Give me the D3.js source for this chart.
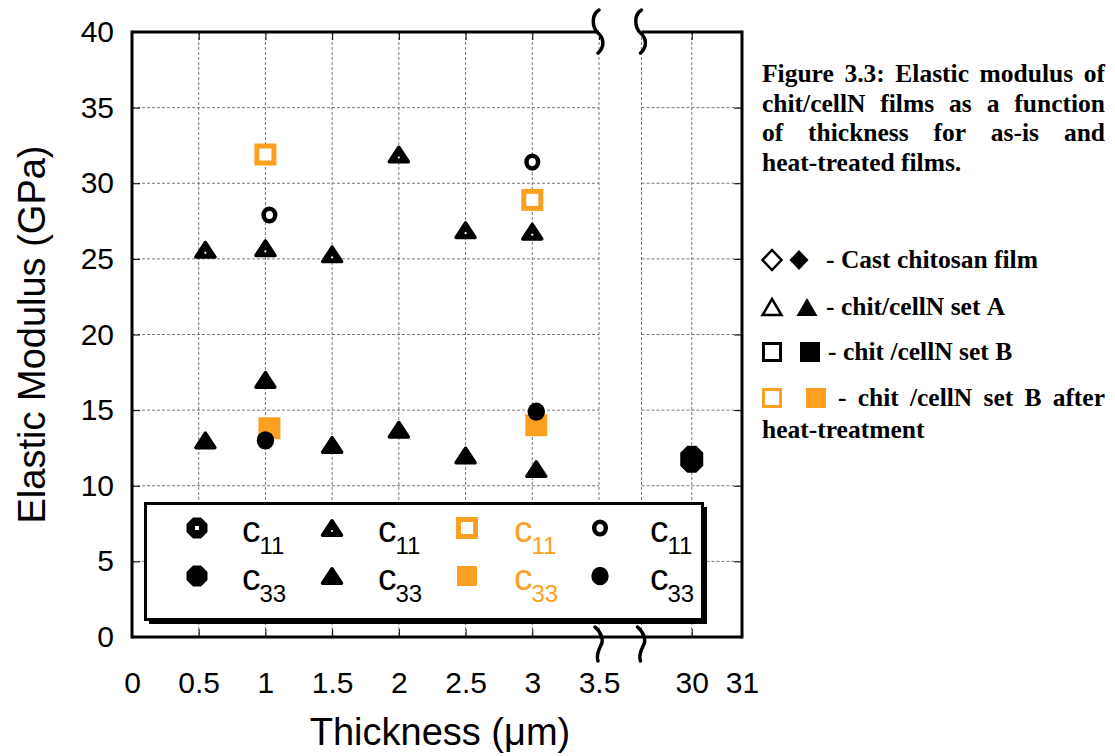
<!DOCTYPE html>
<html>
<head>
<meta charset="utf-8">
<script src="https://cdn.jsdelivr.net/npm/d3@7"></script>
<style>
  body { margin: 0; background: #fff; }
  svg { display: block; }
  text { font-family: "Liberation Sans", Arial, Helvetica, sans-serif; }
</style>
</head>
<body>
<svg></svg>
<script>
// values (thickness in um, modulus in GPa)
const setA_x11 = [0.55, 1.0, 1.5, 2.0, 2.5, 3.0];
const setA_c11 = [25.6, 25.7, 25.3, 31.9, 26.9, 26.8];
const setA_x33 = [0.55, 1.0, 1.5, 2.0, 2.5, 3.03];
const setA_c33 = [13.0, 17.0, 12.7, 13.7, 12.0, 11.1];
const heatB_x11 = [1.0, 3.0];
const heatB_c11 = [31.9, 28.9];
const heatB_x33 = [1.03, 3.03];
const heatB_c33 = [13.8, 14.0];
const setB_x11 = [1.03, 3.0];
const setB_c11 = [27.9, 31.4];
const setB_x33 = [1.0, 3.03];
const setB_c33 = [13.0, 14.9];
const cast_x33 = [30];
const cast_c33 = [11.75];

const xTicks = [0, 0.5, 1, 1.5, 2, 2.5, 3, 3.5, 30, 31];
const xGrid = [0.5, 1, 1.5, 2, 2.5, 3, 3.5, 29, 30];
const yTicks = [0, 5, 10, 15, 20, 25, 30, 35, 40];
const yGrid = [5, 10, 15, 20, 25, 30, 35];

const captionLines = ['Figure 3.3: Elastic modulus of', 'chit/cellN films as a function', 'of thickness for as-is and', 'heat-treated films.'];
const keyLabels = ['- Cast chitosan film', '- chit/cellN set A', '- chit /cellN set B', '- chit /cellN set B after', 'heat-treatment'];

const orange = '#fca021';

const svg = d3.select('svg').attr('width', 1115).attr('height', 756);

// broken x axis: 0..3.5 then 29..31
const x = d3.scaleLinear().domain([0, 3.5, 29, 31]).range([132, 599, 641.5, 742]);
const y = d3.scaleLinear().domain([0, 40]).range([637, 32]);

// grid
const grid = svg.append('g').attr('stroke', '#777').attr('stroke-width', 1).attr('stroke-dasharray', '3,2');
grid.selectAll('.gx').data(xGrid).enter().append('line')
  .attr('x1', d => x(d)).attr('x2', d => x(d)).attr('y1', y(40)).attr('y2', y(0));
yGrid.forEach(v => {
  grid.append('line').attr('x1', x(0)).attr('x2', x(3.5)).attr('y1', y(v)).attr('y2', y(v));
  grid.append('line').attr('x1', x(29)).attr('x2', x(31)).attr('y1', y(v)).attr('y2', y(v));
});

// axes with inward ticks
const styleAxis = g => {
  g.select('.domain').remove();
  g.selectAll('.tick line').attr('stroke', '#000').attr('stroke-width', 1);
  g.selectAll('text').attr('font-size', 30).attr('fill', '#000')
    .style('font-family', '"Liberation Sans", Arial, sans-serif');
};
svg.append('g').attr('transform', `translate(0,${y(0)})`)
  .call(d3.axisBottom(x).tickValues(xTicks).tickSize(-8).tickPadding(35).tickFormat(d => d))
  .call(styleAxis);
svg.append('g').attr('transform', `translate(0,${y(40)})`)
  .call(d3.axisTop(x).tickValues(xTicks.filter(d => d !== 31)).tickSize(-8).tickFormat(''))
  .call(styleAxis);
svg.append('g').attr('transform', `translate(${x(0)},0)`)
  .call(d3.axisLeft(y).tickValues(yTicks).tickSize(-8).tickPadding(18))
  .call(styleAxis);
svg.append('g').attr('transform', `translate(${x(31)},0)`)
  .call(d3.axisRight(y).tickValues(yTicks).tickSize(-8).tickFormat(''))
  .call(styleAxis);

// frame
const frame = svg.append('g').attr('stroke', '#000').attr('stroke-width', 3).attr('fill', 'none');
frame.append('line').attr('x1', x(0)).attr('x2', x(0)).attr('y1', y(40) - 1.5).attr('y2', y(0) + 1.5);
frame.append('line').attr('x1', x(31)).attr('x2', x(31)).attr('y1', y(40) - 1.5).attr('y2', y(0) + 1.5);
frame.append('line').attr('x1', x(0)).attr('x2', x(31)).attr('y1', y(0)).attr('y2', y(0));
frame.append('line').attr('x1', x(0)).attr('x2', x(3.5)).attr('y1', y(40)).attr('y2', y(40));
frame.append('line').attr('x1', x(29)).attr('x2', x(31)).attr('y1', y(40)).attr('y2', y(40));

// break marks
const brk = svg.append('g').attr('stroke', '#000').attr('stroke-width', 3.5).attr('fill', 'none').attr('stroke-linecap', 'round');
[x(3.5) - 1, x(29) - 1].forEach(bx => {
  brk.append('path').attr('d', `M${bx + 1},10 C${bx - 7},15 ${bx - 6},27 ${bx},33 C${bx + 6},38 ${bx + 7},47 ${bx},53`);
  brk.append('path').attr('d', `M${bx - 3},627 C${bx + 3},632 ${bx + 6},640 ${bx + 3},645 C${bx},651 ${bx - 2},656 ${bx},661`);
});

// marker shapes
const octagon = (w, h, c) => `M${-w / 2 + c},${-h / 2} L${w / 2 - c},${-h / 2} L${w / 2},${-h / 2 + c} L${w / 2},${h / 2 - c} L${w / 2 - c},${h / 2} L${-w / 2 + c},${h / 2} L${-w / 2},${h / 2 - c} L${-w / 2},${-h / 2 + c} Z`;
const tri = (w, h) => `M0,${-h / 2} L${w / 2},${h / 2} L${-w / 2},${h / 2} Z`;

const drawMarker = (g, kind) => {
  if (kind === 'triOpen' || kind === 'triFill') {
    g.append('path').attr('d', tri(19, 14.5)).attr('fill', '#000').attr('stroke', '#000')
      .attr('stroke-width', 3.5).attr('stroke-linejoin', 'round');
    if (kind === 'triOpen') g.append('circle').attr('cy', 3).attr('r', 1.1).attr('fill', '#fff');
  } else if (kind === 'sqOpen') {
    g.append('rect').attr('x', -8.5).attr('y', -8.5).attr('width', 17).attr('height', 17)
      .attr('fill', '#fff').attr('stroke', orange).attr('stroke-width', 5);
  } else if (kind === 'sqFill') {
    g.append('rect').attr('x', -11).attr('y', -11).attr('width', 22).attr('height', 22).attr('fill', orange);
  } else if (kind === 'sqFillLeg') {
    g.append('rect').attr('x', -10).attr('y', -10).attr('width', 20).attr('height', 20).attr('fill', orange);
  } else if (kind === 'cirOpen') {
    g.append('ellipse').attr('rx', 5.8).attr('ry', 6.3).attr('fill', '#fff').attr('stroke', '#000').attr('stroke-width', 4.5);
  } else if (kind === 'cirFill') {
    g.append('ellipse').attr('rx', 8.7).attr('ry', 9.2).attr('fill', '#000');
  } else if (kind === 'octFill') {
    g.append('path').attr('d', octagon(23, 27, 7)).attr('fill', '#000');
  } else if (kind === 'octLeg') {
    g.append('path').attr('d', octagon(21, 21, 6.5)).attr('fill', '#000');
  } else if (kind === 'octLegOpen') {
    g.append('path').attr('d', octagon(21, 21, 6.5)).attr('fill', '#000');
    g.append('rect').attr('x', -2).attr('y', -2).attr('width', 4).attr('height', 4).attr('fill', '#fff');
  }
};

const series = [
  {xs: setA_x11, ys: setA_c11, kind: 'triOpen'},
  {xs: setA_x33, ys: setA_c33, kind: 'triFill'},
  {xs: heatB_x11, ys: heatB_c11, kind: 'sqOpen'},
  {xs: heatB_x33, ys: heatB_c33, kind: 'sqFill'},
  {xs: setB_x11, ys: setB_c11, kind: 'cirOpen'},
  {xs: setB_x33, ys: setB_c33, kind: 'cirFill'},
  {xs: cast_x33, ys: cast_c33, kind: 'octFill'}
];
series.forEach(s => {
  const pts = s.xs.map((v, i) => ({x: v, y: s.ys[i]}));
  svg.append('g').selectAll('g').data(pts).enter().append('g')
    .attr('transform', d => `translate(${x(d.x)},${y(d.y)})`)
    .each(function() { drawMarker(d3.select(this), s.kind); });
});

// in-plot legend box
const lg = svg.append('g');
lg.append('rect').attr('x', 149).attr('y', 507).attr('width', 558).attr('height', 117).attr('fill', '#000');
lg.append('rect').attr('x', 145.5).attr('y', 503.5).attr('width', 557).attr('height', 116)
  .attr('fill', '#fff').attr('stroke', '#000').attr('stroke-width', 3);
const legCols = [
  {mx: 197, tx: 242, k: ['octLegOpen', 'octLeg'], color: '#000'},
  {mx: 332, tx: 378, k: ['triOpen', 'triFill'], color: '#000'},
  {mx: 467, tx: 514, k: ['sqOpen', 'sqFillLeg'], color: orange},
  {mx: 600, tx: 650, k: ['cirOpen', 'cirFill'], color: '#000'}
];
const legRows = [{y: 528, sub: '11'}, {y: 576, sub: '33'}];
legCols.forEach(c => {
  legRows.forEach((r, i) => {
    const m = lg.append('g').attr('transform', `translate(${c.mx},${r.y})`);
    drawMarker(m, c.k[i]);
    const t = lg.append('text').attr('x', c.tx).attr('y', r.y + 14).attr('fill', c.color).attr('font-size', 37);
    t.append('tspan').text('c');
    t.append('tspan').attr('font-size', 24).attr('dy', 12).attr('dx', -1).text(r.sub);
  });
});

// axis titles
svg.append('text').attr('transform', `translate(45,${(y(0) + y(40)) / 2}) rotate(-90)`)
  .attr('text-anchor', 'middle').attr('font-size', 38).text('Elastic Modulus (GPa)');
svg.append('text').attr('x', 440).attr('y', 745).attr('text-anchor', 'middle').attr('font-size', 38)
  .text('Thickness (\u03bcm)');

// caption and key on the right (Times bold, justified)
const serif = '"Liberation Serif", "Times New Roman", Times, serif';
const justify = (str, x0, x1, yy, full) => {
  const t = svg.append('text').attr('y', yy).attr('font-size', 25.5).attr('font-weight', 'bold')
    .style('font-family', serif);
  const words = str.split(' ');
  const spans = words.map(w => t.append('tspan').text(w));
  const widths = spans.map(s => s.node().getComputedTextLength());
  const sp = full ? (x1 - x0 - d3.sum(widths)) / (words.length - 1) : 6.4;
  let cx = x0;
  spans.forEach((s, i) => { s.attr('x', cx); cx += widths[i] + sp; });
};
captionLines.forEach((l, i) => justify(l, 762, 1105, 82 + i * 29.5, i < 3));

const key = svg.append('g');
const keyRows = [
  {y: 260, a: 'diaOpen', bx: 799, tx: 826},
  {y: 307, a: 'triO', bx: 807, tx: 826},
  {y: 352, a: 'sqO', bx: 810, tx: 828, col: '#000'},
  {y: 398, a: 'sqO', bx: 816, tx: 838, col: orange}
];
keyRows.forEach((r, i) => {
  const a = key.append('g').attr('transform', `translate(772,${r.y})`);
  const b = key.append('g').attr('transform', `translate(${r.bx},${r.y})`);
  if (r.a === 'diaOpen') {
    a.append('path').attr('d', 'M0,-10 L9.5,0 L0,10 L-9.5,0 Z').attr('fill', '#fff').attr('stroke', '#000').attr('stroke-width', 2.5);
    b.append('path').attr('d', 'M0,-10 L9.5,0 L0,10 L-9.5,0 Z').attr('fill', '#000');
  } else if (r.a === 'triO') {
    a.append('path').attr('d', tri(19, 16)).attr('fill', '#fff').attr('stroke', '#000').attr('stroke-width', 2.5);
    b.append('path').attr('d', tri(21, 18)).attr('fill', '#000');
  } else {
    a.append('rect').attr('x', -8.5).attr('y', -8.5).attr('width', 17).attr('height', 17)
      .attr('fill', '#fff').attr('stroke', r.col).attr('stroke-width', 3);
    b.append('rect').attr('x', -10).attr('y', -10).attr('width', 20).attr('height', 20).attr('fill', r.col);
  }
  justify(keyLabels[i], r.tx, 1105, r.y + 8, i === 3);
});
justify(keyLabels[4], 762, 1105, 438, false);
</script>
</body>
</html>
